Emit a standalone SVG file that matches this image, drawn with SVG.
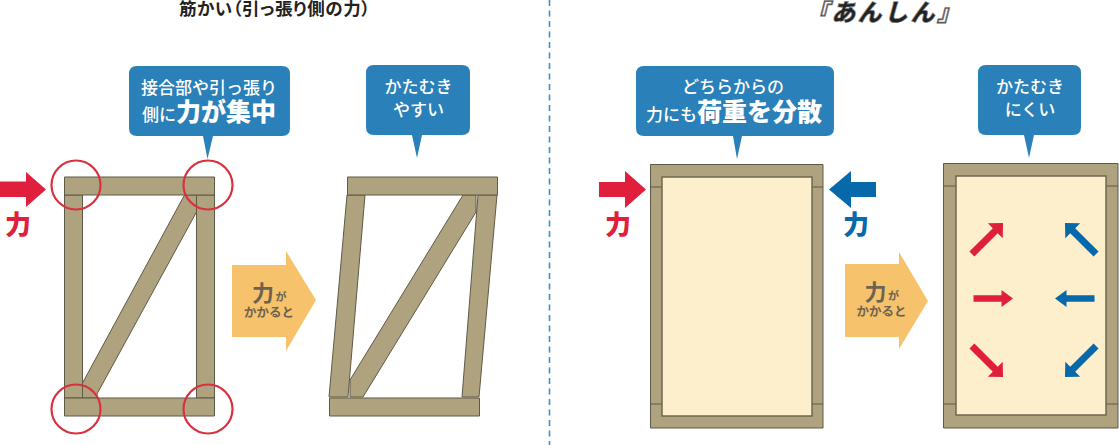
<svg xmlns="http://www.w3.org/2000/svg" width="1119" height="445" viewBox="0 0 1119 445">
<style>
text{font-family:"Noto Sans CJK JP","Noto Sans",sans-serif}
.w{fill:#afa27f;stroke:#5f5947;stroke-width:1;stroke-linejoin:round}
.j{fill:none;stroke:#5f5947;stroke-width:1}
.in{fill:#fdefcc;stroke:#6f6850;stroke-width:1.5}
.c{fill:none;stroke:#d8323f;stroke-width:2.2}
.b{fill:#2a80b9}
.r{fill:#e01f3d}
.u{fill:#0869aa}
.y{fill:#f6c36c}
.t{fill:#fff;font-size:17px;text-anchor:middle;font-weight:500}
.tb{font-size:25px;font-weight:900}
.f{font-size:26px;font-weight:900;text-anchor:middle}
.g{fill:#6b6250;font-weight:700;text-anchor:middle}
</style>
<defs>
<path id="sa" d="M-20 -3.300H8V-8.500L19.500 0L8 8.500V3.300H-20Z"/>
<path id="da" d="M-22 -3.500H11V-10.500L22 0L11 10.500V3.500H-22Z"/>
</defs>
<path id="divider" d="M549.500 0V445" stroke="#3a8fc6" stroke-width="1.6" stroke-dasharray="6 4.500" fill="none"/>
<text id="title-left" x="179" y="15" font-size="17.500" font-weight="700" fill="#222" textLength="191" lengthAdjust="spacing" style="font-feature-settings:'palt'">筋かい（引っ張り側の力）</text>
<text id="title-right" x="884" y="21" font-size="24" font-weight="900" font-style="italic" fill="#222" stroke="#888" stroke-width="0.6" text-anchor="middle" letter-spacing="2.400">『あんしん』</text>

<g id="frame-braced">
<rect class="w" x="64.500" y="195" width="18" height="203"/>
<rect class="w" x="196.500" y="195" width="18" height="203"/>
<path class="w" d="M184.500 195H196.500V212L97 394V398H82.500V383Z"/>
<rect class="w" x="64.500" y="177" width="150" height="18"/>
<rect class="w" x="64.500" y="398" width="150" height="18"/>
<circle class="c" cx="76" cy="185" r="24.500"/>
<circle class="c" cx="208" cy="185" r="24.500"/>
<circle class="c" cx="76" cy="409" r="24.500"/>
<circle class="c" cx="208" cy="409" r="24.500"/>
</g>
<g id="frame-tilted">
<path class="w" d="M347 195H365L348 397H329Z"/>
<path class="w" d="M478 195H497L479 397H462Z"/>
<path class="w" d="M463 195H476V212L363 397H350V380Z"/>
<rect class="w" x="347.500" y="177" width="150" height="18"/>
<rect class="w" x="329.500" y="398" width="150" height="18"/>
</g>
<g id="frame-panel">
<rect class="w" x="650.500" y="164.500" width="172.500" height="263.500"/>
<path class="j" d="M650.500 187H662M812 187H823M650.500 404H662M812 404H823"/>
<rect class="in" x="662" y="177" width="150" height="239"/>
</g>
<g id="frame-panel-tilt">
<rect class="w" x="943.500" y="163.500" width="174.500" height="264.500"/>
<path class="j" d="M943.500 186H956M1106 186H1118M943.500 404H956M1106 404H1118"/>
<rect class="in" x="956" y="176" width="150" height="239"/>
</g>

<g id="callout-1">
<path class="b" d="M137 66H282Q290 66 290 74V128Q290 136 282 136H213L207.500 159L203 136H137Q129 136 129 128V74Q129 66 137 66Z"/>
<text class="t" x="209" y="93.500">接合部や引っ張り</text>
<text class="t" x="209" y="121"><tspan>側に</tspan><tspan class="tb">力が集中</tspan></text>
</g>
<g id="callout-2">
<path class="b" d="M374 65H462Q470 65 470 73V127Q470 135 462 135H422L417 158L412 135H374Q366 135 366 127V73Q366 65 374 65Z"/>
<text class="t" x="418.500" y="93">かたむき</text>
<text class="t" x="418.500" y="116">やすい</text>
</g>
<g id="callout-3">
<path class="b" d="M644 66H826Q834 66 834 74V128Q834 136 826 136H742L737 159L733 136H644Q636 136 636 128V74Q636 66 644 66Z"/>
<text class="t" x="733" y="93">どちらからの</text>
<text class="t" x="734" y="121"><tspan>力にも</tspan><tspan class="tb">荷重を分散</tspan></text>
</g>
<g id="callout-4">
<path class="b" d="M986 65H1073Q1081 65 1081 73V127Q1081 135 1073 135H1034L1029 158L1024 135H986Q978 135 978 127V73Q978 65 986 65Z"/>
<text class="t" x="1030" y="93">かたむき</text>
<text class="t" x="1030" y="116">にくい</text>
</g>

<g id="connectors">
<path class="r" d="M0 181.500H26V172L46 189.500L26 207V197H0Z"/>
<path class="r" d="M599 182H625V171L646 189.500L625 208V197H599Z"/>
<path class="u" d="M876 182H851V171L829 189.500L851 208V197H876Z"/>
<path class="y" d="M232 265H286V251L316 300L286 351V337H232Z"/>
<path class="y" d="M845 264H899V252L928 301L899 349V337H845Z"/>
<use href="#da" class="r" transform="translate(987.500 238.500) rotate(-45)"/>
<use href="#da" class="u" transform="translate(1080.500 238.500) rotate(-135)"/>
<use href="#sa" class="r" transform="translate(993.500 298.500)"/>
<use href="#sa" class="u" transform="translate(1074.500 298.500) rotate(180)"/>
<use href="#da" class="r" transform="translate(987.500 361.500) rotate(45)"/>
<use href="#da" class="u" transform="translate(1080.500 361.500) rotate(135)"/>
</g>

<g id="force-labels">
<text class="f r" x="18" y="234">力</text>
<text class="f r" x="618" y="234">力</text>
<text class="f u" x="856" y="234">力</text>
</g>
<g id="big-arrow-text-1">
<text class="g" x="263" y="301" font-size="22" font-weight="900">力</text>
<text class="g" x="281" y="301" font-size="11">が</text>
<text class="g" x="269" y="317" font-size="12.500">かかると</text>
</g>
<g id="big-arrow-text-2">
<text class="g" x="875.500" y="300" font-size="22" font-weight="900">力</text>
<text class="g" x="893.500" y="300" font-size="11">が</text>
<text class="g" x="881.500" y="316" font-size="12.500">かかると</text>
</g>
</svg>
